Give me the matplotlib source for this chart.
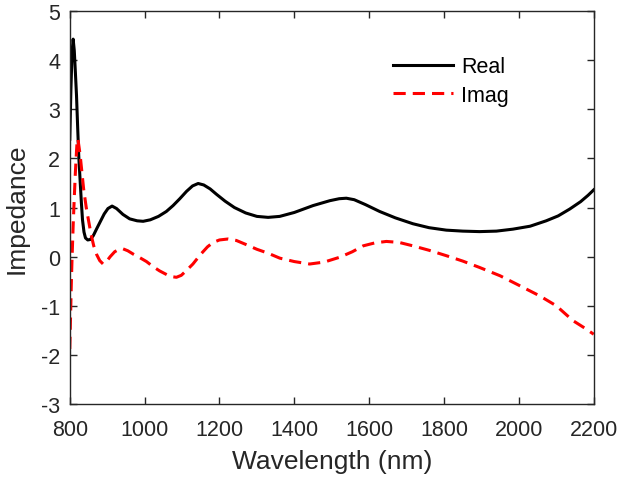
import matplotlib.pyplot as plt
from matplotlib.ticker import FuncFormatter

plt.rcParams["font.family"] = ["Liberation Sans", "DejaVu Sans"]

# values
wl_real = [800, 803, 806, 809, 812, 815, 818, 821, 824, 828, 831, 834, 838, 842, 848,
           855, 863, 872, 882, 892, 902, 913, 925, 942, 960, 980, 996, 1015, 1037,
           1058, 1076, 1094, 1112, 1128, 1143, 1158, 1175, 1192, 1215, 1240, 1270,
           1300, 1330, 1361, 1400, 1450, 1495, 1520, 1539, 1560, 1590, 1628, 1670,
           1717, 1760, 1806, 1850, 1895, 1940, 1984, 2030, 2073, 2105, 2136, 2165,
           2185, 2200]
real = [2.39, 3.4, 4.15, 4.43, 4.2, 3.75, 3.28, 2.65, 2.05, 1.5, 1.1, 0.75, 0.5, 0.38, 0.34,
        0.35, 0.43, 0.57, 0.72, 0.87, 0.98, 1.03, 0.98, 0.86, 0.77, 0.73, 0.72, 0.75, 0.82,
        0.92, 1.04, 1.18, 1.33, 1.44, 1.49, 1.46, 1.38, 1.27, 1.13, 1.0, 0.89,
        0.82, 0.80, 0.82, 0.9, 1.04, 1.14, 1.18, 1.19, 1.16, 1.06, 0.92, 0.79,
        0.67, 0.59, 0.54, 0.52, 0.51, 0.52, 0.56, 0.62, 0.73, 0.83, 0.97, 1.12,
        1.25, 1.36]

wl_imag = [800, 802, 804, 806, 809, 812, 815, 818, 820, 822, 825, 828, 832, 837, 844,
           851, 857, 864, 872, 880, 889, 898, 908, 920, 932, 942, 955, 970, 987,
           1005, 1022, 1040, 1060, 1075, 1085, 1098, 1112, 1129, 1150, 1168, 1183,
           1200, 1223, 1245, 1270, 1300, 1330, 1361, 1400, 1441, 1480, 1522, 1555,
           1584, 1615, 1646, 1680, 1717, 1760, 1806, 1850, 1895, 1950, 2002, 2056,
           2100, 2144, 2175, 2200]
imag = [-1.88, -1.25, -0.59, -0.05, 0.63, 1.2, 1.72, 2.15, 2.4, 2.38, 2.22, 2.05, 1.75, 1.38, 1.0,
        0.7, 0.45, 0.22, 0.04, -0.08, -0.15, -0.1, 0.0, 0.1, 0.15, 0.16, 0.12, 0.05, -0.02,
        -0.1, -0.2, -0.29, -0.37, -0.41, -0.42, -0.38, -0.28, -0.15, 0.05, 0.2, 0.29,
        0.34, 0.36, 0.33, 0.25, 0.15, 0.07, -0.03, -0.1, -0.15, -0.11, -0.01, 0.1,
        0.22, 0.28, 0.31, 0.29, 0.22, 0.13, 0.02, -0.09, -0.22, -0.39, -0.59, -0.8,
        -1.0, -1.3, -1.45, -1.58]

fig = plt.figure(figsize=(6.23, 4.85), dpi=100)
ax = fig.add_axes([0.112, 0.165, 0.841, 0.81])

ax.plot(wl_real, real, color="black", linewidth=2.2, label="Real")
ax.plot(wl_imag, imag, color="red", linewidth=2.2, linestyle=(0, (4, 2.3)), label="Imag")

ax.set_xlim(800, 2200)
ax.set_ylim(-3, 5)
ax.set_xticks(range(800, 2201, 200))
ax.set_yticks(range(-3, 6))
ax.yaxis.set_major_formatter(FuncFormatter(lambda v, p: "%d" % v))
ax.tick_params(direction="in", top=True, right=True, labelsize=15.5, length=5, width=1,
               colors="#262626")
ax.tick_params(axis="x", pad=10.5)
ax.tick_params(axis="y", pad=7)
for s in ax.spines.values():
    s.set_color("#262626")
    s.set_linewidth(1)
ax.set_xlabel("Wavelength (nm)", fontsize=19, color="#262626", labelpad=7)
ax.set_ylabel("Impedance", fontsize=19, color="#262626", labelpad=9)

ax.legend(loc="upper left", bbox_to_anchor=(0.58, 0.935), frameon=False, fontsize=15.5,
          handlelength=2.8, handletextpad=0.35, labelspacing=0.35)

fig.savefig("out.png", dpi=100)
